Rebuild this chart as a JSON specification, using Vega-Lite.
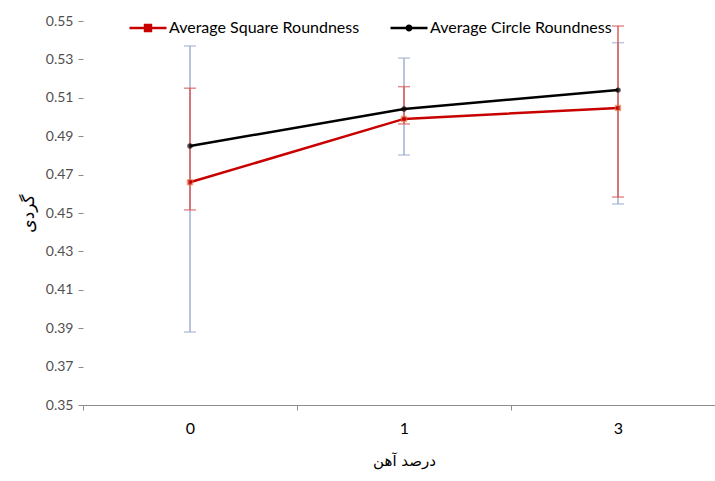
{
  "$schema": "https://vega.github.io/schema/vega-lite/v6.json",
  "autosize": {"type": "none"},
  "padding": {"left": 83, "top": 21, "right": 0, "bottom": 76},
  "width": 642,
  "height": 384,
  "background": "white",
  "config": {"view": {"stroke": null}, "axisY": {"labelOverlap": false}},
  "data": {
    "values": [
      {"series": "Average Square Roundness", "iron": "0", "mean": 0.466, "lo": 0.4516, "hi": 0.515},
      {"series": "Average Square Roundness", "iron": "1", "mean": 0.499, "lo": 0.4964, "hi": 0.5158},
      {"series": "Average Square Roundness", "iron": "3", "mean": 0.5047, "lo": 0.4583, "hi": 0.5474},
      {"series": "Average Circle Roundness", "iron": "0", "mean": 0.4849, "lo": 0.388, "hi": 0.537},
      {"series": "Average Circle Roundness", "iron": "1", "mean": 0.5042, "lo": 0.4802, "hi": 0.5307},
      {"series": "Average Circle Roundness", "iron": "3", "mean": 0.514, "lo": 0.4547, "hi": 0.5387}
    ]
  },
  "encoding": {
    "x": {
      "field": "iron", "type": "ordinal", "sort": ["0", "1", "3"],
      "scale": {"paddingInner": 0, "paddingOuter": 0},
      "axis": {
        "title": "درصد آهن", "titleFont": "DejaVu Sans", "titleFontSize": 15, "titleFontWeight": "normal", "titleColor": "#000000", "titlePadding": 17,
        "labelAngle": 0, "labelFont": "Lato", "labelFontSize": 16, "labelColor": "#000000", "labelPadding": 10,
        "tickBand": "extent", "tickSize": 5, "tickColor": "#8c8c8c", "domainColor": "#8c8c8c", "domainWidth": 1.2, "grid": false
      }
    },
    "y": {
      "field": "mean", "type": "quantitative",
      "scale": {"domain": [0.35, 0.55], "nice": false, "zero": false},
      "axis": {
        "title": "گردی", "titleFont": "DejaVu Sans", "titleFontSize": 17, "titleFontWeight": "normal", "titleColor": "#000000",
        "titleAngle": -90, "titleX": -55, "titleY": 192, "titleAlign": "center", "titleBaseline": "middle",
        "values": [0.35, 0.37, 0.39, 0.41, 0.43, 0.45, 0.47, 0.49, 0.51, 0.53, 0.55],
        "labelOverlap": false,
        "format": ".2f", "labelFont": "Lato", "labelFontSize": 14, "labelColor": "#505050", "labelPadding": 5,
        "tickSize": 5, "tickColor": "#8c8c8c", "domain": false, "grid": false
      }
    }
  },
  "layer": [
    {
      "transform": [{"filter": "datum.series == 'Average Circle Roundness'"}],
      "mark": {"type": "rule", "color": "#9fb0cf", "strokeWidth": 1.5},
      "encoding": {"y": {"field": "lo", "type": "quantitative"}, "y2": {"field": "hi"}}
    },
    {
      "transform": [{"filter": "datum.series == 'Average Circle Roundness'"}],
      "mark": {"type": "tick", "color": "#9fb0cf", "size": 12, "thickness": 1.5},
      "encoding": {"y": {"field": "lo", "type": "quantitative"}}
    },
    {
      "transform": [{"filter": "datum.series == 'Average Circle Roundness'"}],
      "mark": {"type": "tick", "color": "#9fb0cf", "size": 12, "thickness": 1.5},
      "encoding": {"y": {"field": "hi", "type": "quantitative"}}
    },
    {
      "transform": [{"filter": "datum.series == 'Average Square Roundness'"}],
      "mark": {"type": "rule", "color": "#dc5c5c", "strokeWidth": 1.5},
      "encoding": {"y": {"field": "lo", "type": "quantitative"}, "y2": {"field": "hi"}}
    },
    {
      "transform": [{"filter": "datum.series == 'Average Square Roundness'"}],
      "mark": {"type": "tick", "color": "#dc5c5c", "size": 12, "thickness": 1.5},
      "encoding": {"y": {"field": "lo", "type": "quantitative"}}
    },
    {
      "transform": [{"filter": "datum.series == 'Average Square Roundness'"}],
      "mark": {"type": "tick", "color": "#dc5c5c", "size": 12, "thickness": 1.5},
      "encoding": {"y": {"field": "hi", "type": "quantitative"}}
    },
    {
      "mark": {"type": "line", "strokeWidth": 2.5},
      "encoding": {
        "color": {
          "field": "series", "type": "nominal",
          "scale": {"domain": ["Average Square Roundness", "Average Circle Roundness"], "range": ["#c80000", "#000000"]},
          "legend": {
            "title": null, "orient": "none", "direction": "horizontal", "legendX": 45, "legendY": -13,
            "symbolType": "M-1,0H1", "symbolSize": 1369, "symbolStrokeWidth": 2.5,
            "labelFont": "Lato", "labelFontSize": 16, "labelColor": "#000000", "labelOffset": 1, "labelLimit": 0,
            "columnPadding": 25,
            "encode": {
              "symbols": {
                "update": {
                  "shape": {"signal": "datum.value == 'Average Square Roundness' ? 'M-1,0H1M-0.16,-0.16H0.16V0.16H-0.16Z' : 'M-1,0H1M-0.12,0A0.12,0.12 0 1,0 0.12,0A0.12,0.12 0 1,0 -0.12,0Z'"},
                  "fill": {"signal": "datum.value == 'Average Square Roundness' ? '#c80000' : '#000000'"}
                }
              }
            }
          }
        }
      }
    },
    {
      "transform": [{"filter": "datum.series == 'Average Square Roundness'"}],
      "mark": {"type": "square", "size": 30, "filled": true, "color": "#c00000", "stroke": "#f08040", "strokeWidth": 1},
      "encoding": {}
    },
    {
      "transform": [{"filter": "datum.series == 'Average Circle Roundness'"}],
      "mark": {"type": "circle", "size": 30, "color": "#000000"},
      "encoding": {}
    }
  ]
}
